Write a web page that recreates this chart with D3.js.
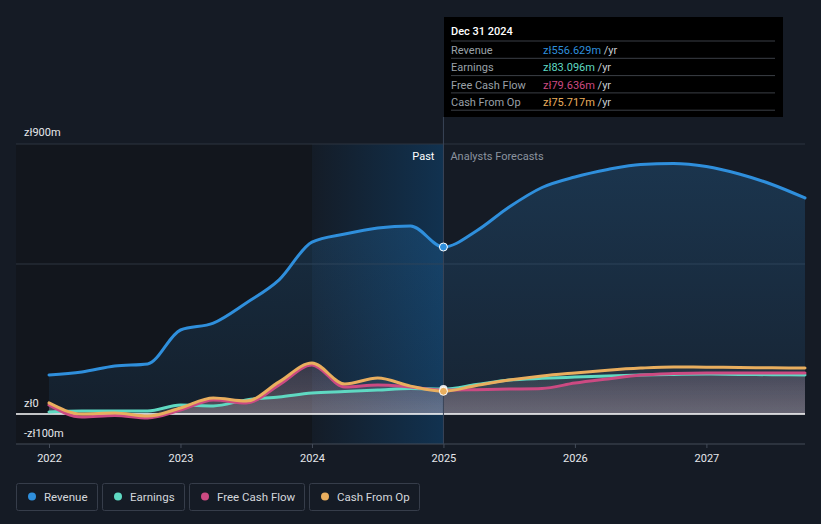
<!DOCTYPE html>
<html>
<head>
<meta charset="utf-8">
<script src="https://cdn.jsdelivr.net/npm/d3@7"></script>
<style>
  body { margin: 0; background: #151b25; font-family: Roboto, "Noto Sans", sans-serif; }
  svg { display: block; }
</style>
</head>
<body>
<svg width="821" height="524"></svg>
<script>
// values in zł millions, t = fractional year
var pastT = [2022, 2022.25, 2022.5, 2022.75, 2023, 2023.25, 2023.5, 2023.75, 2024, 2024.25, 2024.5, 2024.75, 2025];
var revenuePast = [130, 140, 160, 167, 280, 303, 370, 447, 573, 600, 620, 627, 556.629];
var earningsPast = [7, 10, 10, 10, 30, 27, 47, 57, 70, 75, 80, 85, 83.096];
var fcfPast = [30, -10, -5, -13, 13, 47, 37, 97, 163, 90, 97, 90, 79.636];
var cfoPast = [37, 0, 3, -7, 20, 53, 43, 107, 170, 100, 120, 93, 75.717];

var foreT = [2025, 2025.25, 2025.5, 2025.75, 2026, 2026.25, 2026.5, 2026.75, 2027, 2027.25, 2027.5, 2027.75];
var revenueFore = [556.629, 610, 690, 755, 790, 815, 832, 835, 825, 800, 765, 720];
var earningsFore = [83.096, 98, 113, 119, 123, 127, 130, 132, 133, 132, 131, 130];
var fcfFore = [79.636, 81, 83, 85, 103, 117, 130, 135, 137, 137, 137, 137];
var cfoFore = [75.717, 95, 113, 127, 137, 146, 153, 157, 156, 155, 154, 153];

var xTicks = [2022, 2023, 2024, 2025, 2026, 2027];
var yLabels = [{v: 900, t: 'zł900m'}, {v: 0, t: 'zł0'}, {v: -100, t: '-zł100m'}];
var gridVals = [900, 500];

var seriesNames = ['Revenue', 'Earnings', 'Free Cash Flow', 'Cash From Op'];
var seriesColors = ['#2f8fdc', '#5fd9c2', '#cc4a82', '#e9ae5e'];
var tipValues = ['zł556.629m', 'zł83.096m', 'zł79.636m', 'zł75.717m'];

var svg = d3.select('svg');
var x = d3.scaleLinear().domain([2022, 2027.75]).range([49, 805]);
var y = d3.scaleLinear().domain([-100, 900]).range([444, 144]);
var left = 16, right = 805;

var defs = svg.append('defs');
var bandGrad = defs.append('linearGradient').attr('id', 'band').attr('x1', 0).attr('x2', 1).attr('y1', 0).attr('y2', 0);
bandGrad.append('stop').attr('offset', '0%').attr('stop-color', '#141c27');
bandGrad.append('stop').attr('offset', '100%').attr('stop-color', '#113250');
var revGrad = defs.append('linearGradient').attr('id', 'revfill').attr('x1', 0).attr('x2', 0).attr('y1', 0).attr('y2', 1);
revGrad.append('stop').attr('offset', '0%').attr('stop-color', '#2f8fdc').attr('stop-opacity', 0.22);
revGrad.append('stop').attr('offset', '100%').attr('stop-color', '#2f8fdc').attr('stop-opacity', 0.08);
var greyGrad = defs.append('linearGradient').attr('id', 'greyfill').attr('x1', 0).attr('x2', 0).attr('y1', 0).attr('y2', 1);
greyGrad.append('stop').attr('offset', '0%').attr('stop-color', '#ffffff').attr('stop-opacity', 0.08);
greyGrad.append('stop').attr('offset', '100%').attr('stop-color', '#ffffff').attr('stop-opacity', 0.2);

// backgrounds
svg.append('rect').attr('x', left).attr('y', y(900)).attr('width', x(2024) - left).attr('height', y(-100) - y(900)).attr('fill', '#12161d');
svg.append('rect').attr('x', x(2024)).attr('y', y(900)).attr('width', x(2025) - x(2024)).attr('height', y(-100) - y(900)).attr('fill', 'url(#band)');

// grid
svg.selectAll('.grid').data(gridVals).enter().append('line')
  .attr('x1', left).attr('x2', right).attr('y1', function(d) { return y(d); }).attr('y2', function(d) { return y(d); })
  .attr('stroke', '#2c3441').attr('stroke-width', 1);

var allT = pastT.concat(foreT.slice(1));
function join(a, b) { return a.concat(b.slice(1)); }
var revenue = join(revenuePast, revenueFore);
var earnings = join(earningsPast, earningsFore);
var fcf = join(fcfPast, fcfFore);
var cfo = join(cfoPast, cfoFore);

var line = d3.line().x(function(d, i) { return x(allT[i]); }).y(function(d) { return y(d); }).curve(d3.curveMonotoneX);
var area = d3.area().x(function(d, i) { return x(allT[i]); }).y0(y(0)).y1(function(d) { return y(d); }).curve(d3.curveMonotoneX);

svg.append('path').attr('d', area(revenue)).attr('fill', 'url(#revfill)');
[earnings, fcf, cfo].forEach(function(s) {
  svg.append('path').attr('d', area(s)).attr('fill', 'url(#greyfill)').attr('opacity', 0.6);
});
svg.append('path').attr('d', area(fcf)).attr('fill', '#cc4a82').attr('opacity', 0.08);

// zero line
svg.append('line').attr('x1', left).attr('x2', right).attr('y1', y(0)).attr('y2', y(0)).attr('stroke', '#ffffff').attr('stroke-width', 1.5);

[earnings, fcf, cfo, revenue].forEach(function(s, k) {
  var idx = [1, 2, 3, 0][k];
  svg.append('path').attr('d', line(s)).attr('fill', 'none').attr('stroke', seriesColors[idx]).attr('stroke-width', 3).attr('stroke-linecap', 'round');
});

// bottom axis
svg.append('line').attr('x1', left).attr('x2', right).attr('y1', y(-100)).attr('y2', y(-100)).attr('stroke', '#444c59').attr('stroke-width', 1);
var xAxis = svg.append('g').attr('transform', 'translate(0,' + y(-100) + ')')
  .call(d3.axisBottom(x).tickValues(xTicks).tickFormat(d3.format('d')).tickSize(4).tickPadding(6));
xAxis.select('.domain').remove();
xAxis.selectAll('line').attr('stroke', '#444c59');
xAxis.selectAll('text').attr('fill', '#e6e8eb').attr('font-size', 11).attr('font-family', 'Roboto, sans-serif');

// y labels
svg.selectAll('.ylab').data(yLabels).enter().append('text')
  .attr('x', 24).attr('y', function(d) { return d.v === 900 ? y(d.v) - 8 : y(d.v) - 7; })
  .attr('fill', '#e6e8eb').attr('font-size', 11).text(function(d) { return d.t; });

// divider at 2025
svg.append('line').attr('x1', x(2025)).attr('x2', x(2025)).attr('y1', 117).attr('y2', y(-100)).attr('stroke', '#3a4558').attr('stroke-width', 1);
svg.append('text').attr('x', x(2025) - 9).attr('y', 160).attr('text-anchor', 'end').attr('fill', '#ffffff').attr('font-size', 11).text('Past');
svg.append('text').attr('x', x(2025) + 7).attr('y', 160).attr('fill', '#8b939f').attr('font-size', 11).text('Analysts Forecasts');

// markers
svg.append('circle').attr('cx', x(2025)).attr('cy', y(earningsFore[0])).attr('r', 4).attr('fill', '#e8eaee');
svg.append('circle').attr('cx', x(2025)).attr('cy', y(cfoFore[0])).attr('r', 4).attr('fill', '#e9ae5e').attr('stroke', '#ffffff').attr('stroke-width', 1);
svg.append('circle').attr('cx', x(2025)).attr('cy', y(revenueFore[0])).attr('r', 4).attr('fill', '#2f8fdc').attr('stroke', '#ffffff').attr('stroke-width', 1);

// tooltip
var tip = svg.append('g').attr('transform', 'translate(444,17)');
tip.append('rect').attr('width', 339).attr('height', 100).attr('fill', '#000000');
tip.append('text').attr('x', 7).attr('y', 18).attr('fill', '#ffffff').attr('font-size', 11).attr('font-weight', 500).text('Dec 31 2024');
seriesNames.forEach(function(n, i) {
  var ry = 24 + i * 17.3;
  tip.append('line').attr('x1', 7).attr('x2', 331).attr('y1', ry).attr('y2', ry).attr('stroke', '#3b3f46');
  tip.append('text').attr('x', 7).attr('y', ry + 13).attr('fill', '#9aa0a8').attr('font-size', 11).text(n);
  var t = tip.append('text').attr('x', 99).attr('y', ry + 13).attr('font-size', 11);
  t.append('tspan').attr('fill', seriesColors[i]).text(tipValues[i]);
  t.append('tspan').attr('fill', '#c8ccd2').text(' /yr');
});
tip.append('line').attr('x1', 7).attr('x2', 331).attr('y1', 24 + 4 * 17.3).attr('y2', 24 + 4 * 17.3).attr('stroke', '#3b3f46');

// legend
var legX = [16, 102, 189, 309];
var legW = [81, 82, 115, 110];
seriesNames.forEach(function(n, i) {
  var g = svg.append('g').attr('transform', 'translate(' + legX[i] + ',483)');
  g.append('rect').attr('x', 0.5).attr('y', 0.5).attr('width', legW[i]).attr('height', 27).attr('rx', 2).attr('fill', 'none').attr('stroke', '#363d4a');
  g.append('circle').attr('cx', 16).attr('cy', 13.5).attr('r', 4).attr('fill', seriesColors[i]);
  g.append('text').attr('x', 28).attr('y', 17.5).attr('fill', '#d4d7dc').attr('font-size', 11.5).text(n);
});
</script>
</body>
</html>
